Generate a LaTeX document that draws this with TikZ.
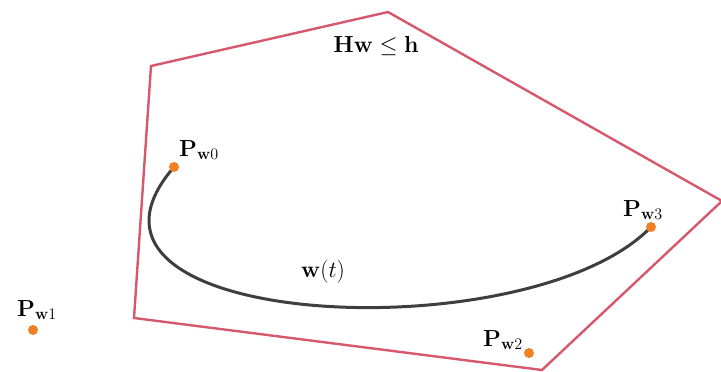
\documentclass[tikz,border=0pt]{standalone}
\usepackage{amsmath}
\definecolor{polyred}{RGB}{214,88,108}
\definecolor{ptorange}{RGB}{240,128,36}
\definecolor{curvegray}{RGB}{62,62,62}
\tikzset{
  region/.style={draw=polyred, line width=2.4pt, line join=miter},
  ctrlpt/.style={circle, fill=ptorange, inner sep=0pt, minimum size=10pt},
  lbl/.style={font=\huge, inner sep=0pt, scale=1.12},
  traj/.style={draw=curvegray, line width=3pt, line cap=round}
}
\begin{document}
\begin{tikzpicture}[x=1pt,y=-1pt]
\useasboundingbox (0,0) rectangle (721,372);
\coordinate (v1) at (151,66);
\coordinate (v2) at (388,12);
\coordinate (v3) at (722,201);
\coordinate (v4) at (542,370);
\coordinate (v5) at (134,318);
\draw[region] (v1) -- (v2) -- (v3) -- (v4) -- (v5) -- cycle;
\coordinate (p0) at (174,167);
\coordinate (p1) at (33,330);
\coordinate (p2) at (529,353);
\coordinate (p3) at (651,227);
\draw[traj] (p0) .. controls (p1) and (p2) .. (p3);
\node[ctrlpt] (n0) at (p0) {};
\node[ctrlpt] (n1) at (p1) {};
\node[ctrlpt] (n2) at (p2) {};
\node[ctrlpt] (n3) at (p3) {};
\node[lbl] (l0) at (199,150) {$\mathbf{P}_{\mathbf{w}0}$};
\node[lbl] (l1) at (37,310) {$\mathbf{P}_{\mathbf{w}1}$};
\node[lbl] (l2) at (503,340) {$\mathbf{P}_{\mathbf{w}2}$};
\node[lbl] (l3) at (643,210) {$\mathbf{P}_{\mathbf{w}3}$};
\node[lbl] (hc) at (376,46) {$\mathbf{Hw}\leq\mathbf{h}$};
\node[lbl] (wt) at (323,272) {$\mathbf{w}(t)$};
\end{tikzpicture}
\end{document}
